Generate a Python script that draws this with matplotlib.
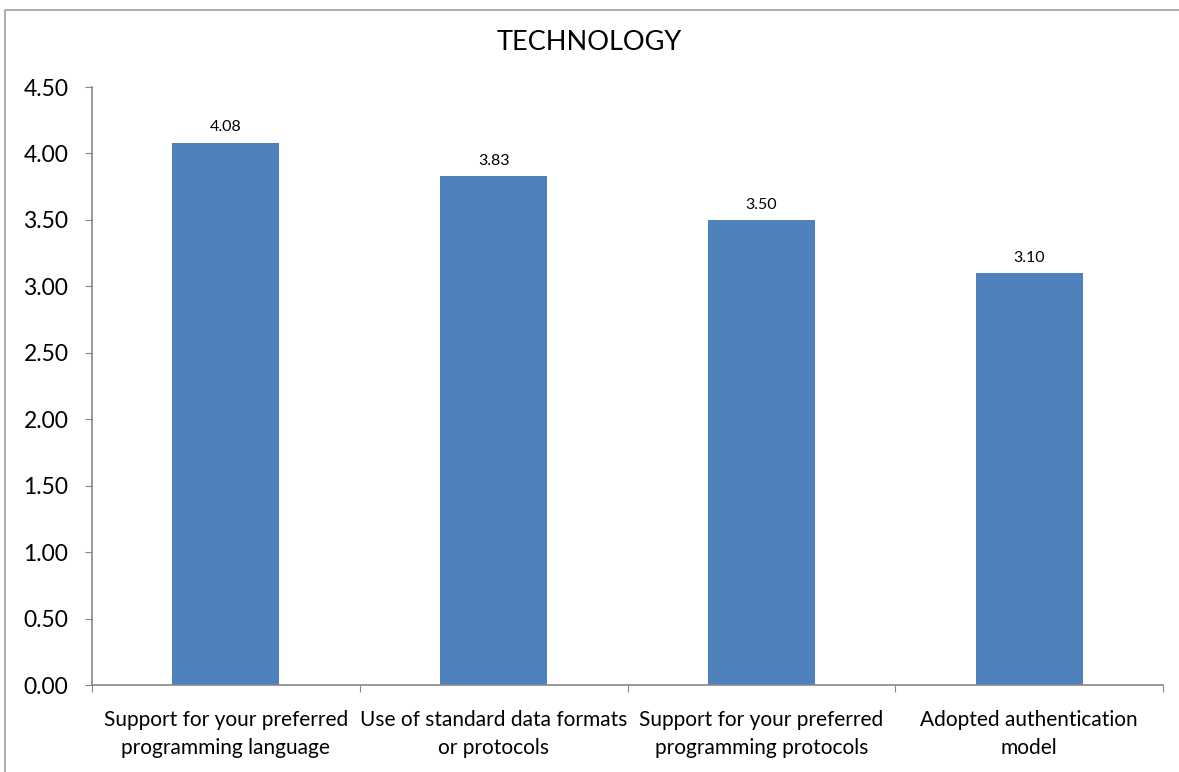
import matplotlib
matplotlib.use("Agg")
import matplotlib.pyplot as plt
from matplotlib.patches import Rectangle

categories = ["Support for your preferred\nprogramming language",
              "Use of standard data formats\nor protocols",
              "Support for your preferred\nprogramming protocols",
              "Adopted authentication\nmodel"]
values = [4.08, 3.83, 3.50, 3.10]
yticks = [0.0, 0.5, 1.0, 1.5, 2.0, 2.5, 3.0, 3.5, 4.0, 4.5]
title = "TECHNOLOGY"

plt.rcParams['font.family'] = ['Lato', 'DejaVu Sans']

W, H = 1179, 772
fig = plt.figure(figsize=(W/100, H/100), dpi=100)
ax = fig.add_axes([92/W, 1-685/H, (1163-92)/W, (685-87)/H])

x = list(range(len(values)))
bars = ax.bar(x, values, width=0.4, color="#4F81BD", zorder=2)
for xi, v in zip(x, values):
    ax.annotate(f"{v:.2f}", (xi, v), xytext=(0, 6), textcoords="offset points",
                ha="center", va="bottom", fontsize=11.5, color="black")

ax.set_xlim(-0.5, len(values)-0.5)
ax.set_ylim(0, 4.5)
ax.set_yticks(yticks)
ax.set_yticklabels([f"{t:.2f}" for t in yticks], fontsize=16.5)
ax.set_xticks([i-0.5 for i in range(len(values)+1)])
ax.set_xticklabels([])
ax.set_xticks(x, minor=True)
ax.set_xticklabels(categories, minor=True, fontsize=15, linespacing=1.5)
ax.tick_params(axis='x', which='minor', length=0, pad=18)
ax.tick_params(axis='x', which='major', length=5, color="#868686", direction='out')
ax.tick_params(axis='y', length=5, color="#868686", direction='out', pad=12)

for s in ['top', 'right']:
    ax.spines[s].set_visible(False)
for s in ['left', 'bottom']:
    ax.spines[s].set_color("#868686")
    ax.spines[s].set_linewidth(1.2)

fig.text(0.5, 1-42/H, title, ha="center", va="center", fontsize=19.5)

fig.patches.append(Rectangle((5/W, -0.1), 1.2, 1-10/H+0.1, transform=fig.transFigure,
                             fill=False, edgecolor="#A0A0A0", linewidth=1.2))

fig.savefig("out.png", dpi=100)
